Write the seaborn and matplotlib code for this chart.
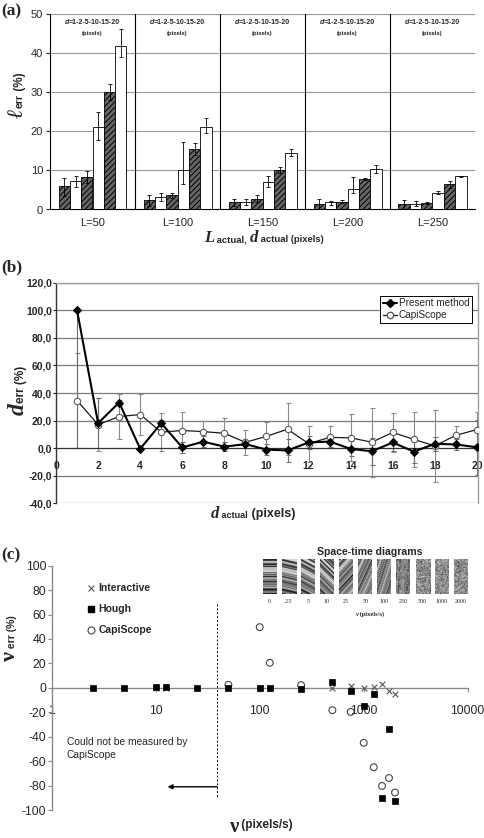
import numpy as np
import pandas as pd
import matplotlib
matplotlib.use("Agg")
import matplotlib.pyplot as plt
from matplotlib.lines import Line2D
import seaborn as sns

# ---------------- data: panel (a) ----------------
a_groups = ["L=50", "L=100", "L=150", "L=200", "L=250"]
a_d_levels = ["1", "2", "5", "10", "15", "20"]
lerr_L50 = [6.0, 7.2, 8.3, 21.2, 30.0, 41.8]
lerr_L100 = [2.4, 3.3, 3.7, 10.0, 15.4, 21.2]
lerr_L150 = [1.8, 2.0, 2.7, 7.0, 10.0, 14.6]
lerr_L200 = [1.4, 1.8, 2.0, 5.2, 7.8, 10.3]
lerr_L250 = [1.3, 1.5, 1.6, 4.3, 6.5, 8.5]
lo_L50 = [2.5, 1.4, 1.5, 3.4, 2.0, 2.8]
up_L50 = [2.0, 1.4, 1.5, 3.8, 2.2, 4.4]
lo_L100 = [1.4, 1.0, 0.7, 3.5, 1.4, 1.7]
up_L100 = [1.4, 1.0, 0.6, 7.2, 1.6, 2.3]
lo_L150 = [1.0, 0.8, 0.9, 1.2, 0.7, 1.0]
up_L150 = [1.0, 0.8, 0.9, 1.6, 0.8, 0.9]
lo_L200 = [1.4, 0.6, 0.4, 1.0, 0.2, 1.0]
up_L200 = [1.3, 0.5, 0.4, 3.1, 0.3, 1.2]
lo_L250 = [1.3, 0.7, 0.3, 0.3, 1.0, 0.3]
up_L250 = [1.2, 0.7, 0.3, 0.4, 0.8, 0.2]
a_yticks = [0, 10, 20, 30, 40, 50]
a_header = "=1-2-5-10-15-20"

# ---------------- data: panel (b) ----------------
b_d = list(range(1, 21))
b_present = [100.0, 18.1, 33.1, -0.5, 18.1, 0.5, 4.7, 1.1, 2.9, -1.0, -1.7, 4.1, 4.8, -0.5,
             -2.3, 4.1, -2.5, 3.1, 2.7, 0.6]
b_present_lo = [100, 18, 2, 1, 2, 4, 4, 3, 3, 4, 8, 5, 4, 5.5, 10, 6, 8, 5, 4, 20]
b_present_up = [0, 18, 2, 1, 2, 4, 4, 3, 3, 4, 8, 5, 4, 5.5, 10, 6, 8, 5, 4, 20]
b_capi = [34.5, 17.1, 22.9, 24.4, 11.6, 12.8, 12.0, 10.8, 4.2, 8.6, 13.7, 3.3, 7.8, 7.5,
          4.3, 11.4, 6.3, 1.7, 9.3, 13.5]
b_capi_err = [34.5, 19, 16.4, 15, 14, 13.5, 7.5, 11, 9, 10.5, 19, 13, 8, 17, 25, 14, 20,
              26, 6.5, 13]
b_yticks = [-40, -20, 0, 20, 40, 60, 80, 100, 120]
b_yticklabels = ["-40,0", "-20,0", "0,0", "20,0", "40,0", "60,0", "80,0", "100,0", "120,0"]
b_xticks = list(range(0, 21, 2))

# ---------------- data: panel (c) ----------------
v_interactive = [10, 12.5, 100, 125, 500, 750, 1000, 1250, 1500, 1750, 2000]
err_interactive = [0, 0, 0, 0, -0.5, 1.4, 0, 1.0, 2.8, -2.7, -5.2]
v_hough = [2.5, 5, 10, 12.5, 25, 50, 100, 125, 250, 500, 750, 1000, 1250, 1500, 1750, 2000]
err_hough = [0, 0, 1, 0.5, 0, 0, 0, 0, -1.3, 4.4, -2.7, -15, -5.4, -90, -34, -92.9]
v_capi = [50, 100, 125, 250, 500, 750, 1000, 1250, 1500, 1750, 2000]
err_capi = [2.5, 49.7, 20.5, 2.2, -18.3, -19.7, -45, -65, -80.3, -73.8, -85.7]
c_yticks = [-100, -80, -60, -40, -20, 0, 20, 40, 60, 80, 100]
c_xticks = [1, 10, 100, 1000, 10000]
c_limit_v = 39
c_arrow_end_v = 13
tile_speeds = ["0", "2.5", "5", "10", "25", "50", "100", "250", "500", "1000", "2000"]

# ---------------- style ----------------
sns.set_style("white")
plt.rcParams["font.family"] = ["Liberation Sans", "DejaVu Sans"]
plt.rcParams["hatch.linewidth"] = 0.7
SERIF = ["Liberation Serif", "DejaVu Serif"]
SANS = ["Liberation Sans", "DejaVu Sans"]

W, H = 484, 838
fig = plt.figure(figsize=(W / 100, H / 100), dpi=100)


def rect(l, t, r, b):
    return [l / W, 1 - b / H, (r - l) / W, (b - t) / H]


def run(pieces, x, y, align="left", vertical=False):
    rend = fig.canvas.get_renderer()
    items = []
    for p in pieces:
        s, kw = p[0], p[1]
        off = p[2] if len(p) > 2 else 0
        t = fig.text(0, 0, s, ha="left", va="baseline", rotation=90 if vertical else 0,
                     rotation_mode="anchor", **kw)
        bb = t.get_window_extent(rend)
        items.append((t, bb.height if vertical else bb.width, off))
    total = sum(w for _, w, _ in items)
    if vertical:
        pos = y + total / 2 if align == "center" else y
        for t, w, off in items:
            t.set_position(((x + off) / W, 1 - pos / H))
            pos -= w
    else:
        pos = x - total / 2 if align == "center" else x
        for t, w, off in items:
            t.set_position((pos / W, 1 - (y + off) / H))
            pos += w


# =============== panel (a) ===============
ax_a = fig.add_axes(rect(50, 14.3, 475, 209.5))
rows = []
for g, vals, lo, up in zip(a_groups,
                           [lerr_L50, lerr_L100, lerr_L150, lerr_L200, lerr_L250],
                           [lo_L50, lo_L100, lo_L150, lo_L200, lo_L250],
                           [up_L50, up_L100, up_L150, up_L200, up_L250]):
    for d, v, l, u in zip(a_d_levels, vals, lo, up):
        rows.append(dict(L=g, d=d, lerr=v, lo=l, up=u))
df_a = pd.DataFrame(rows)
dark = "#666666"
a_palette = {d: (dark if i % 2 == 0 else "white") for i, d in enumerate(a_d_levels)}
sns.barplot(data=df_a, x="L", y="lerr", hue="d", order=a_groups, hue_order=a_d_levels,
            palette=a_palette, errorbar=None, edgecolor="black", linewidth=0.6,
            width=0.8, legend=False, ax=ax_a, zorder=3)
bar_conts = list(ax_a.containers)
for i, cont in enumerate(bar_conts):
    sub = df_a[df_a.d == a_d_levels[i]].set_index("L").loc[a_groups]
    xs = []
    for p in cont:
        if i % 2 == 0:
            p.set_hatch("//////")
        xs.append(p.get_x() + p.get_width() / 2)
    ax_a.errorbar(xs, sub.lerr.values, yerr=[sub.lo.values, sub.up.values], fmt="none",
                  ecolor="black", elinewidth=0.6, capsize=1.6, capthick=0.6, zorder=4)
ax_a.set_xlim(-0.5, len(a_groups) - 0.5)
ax_a.set_ylim(0, 50)
ax_a.set_yticks(a_yticks)
ax_a.set_yticklabels([str(t) for t in a_yticks])
for yv in a_yticks[1:]:
    ax_a.axhline(yv, color="#9a9a9a", lw=0.8, zorder=1)
for k in range(1, len(a_groups)):
    ax_a.axvline(k - 0.5, color="black", lw=0.8, zorder=2)
ax_a.set_xticks(range(len(a_groups)))
ax_a.set_xticklabels(a_groups)
ax_a.set_xticks([k - 0.5 for k in range(len(a_groups) + 1)], minor=True)
ax_a.tick_params(axis="x", which="major", length=0, labelsize=8, pad=6)
ax_a.tick_params(axis="x", which="minor", length=4, width=0.8, direction="out", color="black")
ax_a.tick_params(axis="y", length=3, width=0.8, direction="out", labelsize=8, pad=2, left=True)
for s in ["top", "right"]:
    ax_a.spines[s].set_visible(False)
for s in ["left", "bottom"]:
    ax_a.spines[s].set_color("black")
    ax_a.spines[s].set_linewidth(0.8)
ax_a.set_xlabel("")
ax_a.set_ylabel("")
for k in range(len(a_groups)):
    cx = 50 + 85 * (k + 0.5)
    run([("d", dict(family=SANS, fontsize=5, fontweight="bold", style="italic")),
         (a_header, dict(family=SANS, fontsize=5, fontweight="bold"))], cx, 24.5, align="center")
    fig.text(cx / W, 1 - 35 / H, "(pixels)", ha="center", va="baseline", fontsize=4.2,
             fontweight="bold")

# =============== panel (b) ===============
ax_b = fig.add_axes(rect(56, 282.7, 478, 503.3))
ax_b.errorbar(b_d, b_capi, yerr=b_capi_err, fmt="none", ecolor="#8a8a8a", elinewidth=0.8,
              capsize=1.8, capthick=0.8, zorder=2)
ax_b.errorbar(b_d, b_present, yerr=[b_present_lo, b_present_up], fmt="none", ecolor="#6e6e6e",
              elinewidth=0.8, capsize=1.8, capthick=0.8, zorder=2)
sns.lineplot(x=b_d, y=b_capi, color="#1a1a1a", lw=0.9, marker="o", markersize=4.6,
             markeredgecolor="#5a5a5a", markerfacecolor="white", markeredgewidth=0.8,
             ax=ax_b, zorder=3)
sns.lineplot(x=b_d, y=b_present, color="black", lw=1.5, marker="D", markersize=3.8,
             markeredgecolor="black", markerfacecolor="black", ax=ax_b, zorder=4)
ax_b.lines[-2].set_markerfacecolor("white")
ax_b.set_xlim(0, 20.05)
ax_b.set_ylim(-40, 120)
ax_b.set_yticks(b_yticks)
ax_b.set_yticklabels(b_yticklabels)
ax_b.set_xticks(b_xticks)
ax_b.set_xticklabels([str(t) for t in b_xticks])
ax_b.yaxis.grid(True, color="#7a7a7a", lw=0.9)
ax_b.set_axisbelow(True)
ax_b.spines["bottom"].set_position(("data", 0))
ax_b.spines["bottom"].set_color("#333333")
ax_b.spines["left"].set_color("#333333")
ax_b.spines["left"].set_linewidth(1.0)
for s in ["top", "right"]:
    ax_b.spines[s].set_color("#a0a0a0")
    ax_b.spines[s].set_linewidth(1.0)
ax_b.tick_params(axis="y", length=2, width=0.8, direction="out", left=True, labelsize=7.5, pad=1)
ax_b.tick_params(axis="x", length=0, labelsize=7.5, pad=9)
for lab in ax_b.get_xticklabels() + ax_b.get_yticklabels():
    lab.set_fontweight("bold")
ax_b.set_xlabel("")
ax_b.set_ylabel("")
hb = [Line2D([], [], color="black", lw=1.5, marker="D", markersize=3.8),
      Line2D([], [], color="#1a1a1a", lw=0.9, marker="o", markersize=4.6,
             markerfacecolor="white", markeredgecolor="#5a5a5a")]
leg = ax_b.legend(hb, ["Present method", "CapiScope"], loc="upper right",
                  bbox_to_anchor=(0.985, 0.94), borderaxespad=0, fontsize=7.2,
                  handlelength=1.4, handletextpad=0.2, labelspacing=0.2, borderpad=0.25,
                  fancybox=False, framealpha=1, edgecolor="black")
leg.get_frame().set_linewidth(0.7)

# =============== panel (c) ===============
ax_c = fig.add_axes(rect(51.7, 565.7, 467.7, 810))
sns.scatterplot(x=v_capi, y=err_capi, marker="o", s=24, color="white", edgecolor="#444444",
                linewidth=0.8, ax=ax_c, zorder=3)
sns.scatterplot(x=v_interactive, y=err_interactive, marker="x", s=17, color="#555555",
                linewidth=0.8, ax=ax_c, zorder=3)
sns.scatterplot(x=v_hough, y=err_hough, marker="s", s=20, color="black", edgecolor="black",
                linewidth=0.5, ax=ax_c, zorder=4)
ax_c.collections[0].set_facecolor("none")
ax_c.collections[0].set_edgecolor("#444444")
ax_c.set_xscale("log")
ax_c.set_xlim(1, 10000)
ax_c.set_ylim(-100, 100)
ax_c.set_xticks(c_xticks)
ax_c.set_xticklabels([str(t) for t in c_xticks])
ax_c.xaxis.set_minor_locator(matplotlib.ticker.NullLocator())
ax_c.set_yticks(c_yticks)
ax_c.set_yticklabels([str(t) for t in c_yticks])
ax_c.spines["bottom"].set_position(("data", 0))
for s in ["bottom", "left"]:
    ax_c.spines[s].set_color("#8a8a8a")
    ax_c.spines[s].set_linewidth(1.0)
for s in ["top", "right"]:
    ax_c.spines[s].set_visible(False)
ax_c.tick_params(axis="y", length=3, width=0.8, color="#8a8a8a", direction="out", left=True,
                 labelsize=8.8, pad=1)
ax_c.tick_params(axis="x", length=3, width=0.8, color="#8a8a8a", direction="out", bottom=True,
                 labelsize=8.8, pad=9)
ax_c.set_xlabel("")
ax_c.set_ylabel("")
ax_c.plot([c_limit_v, c_limit_v], [68.6, -90.5], color="black", lw=0.7, ls=(0, (2, 2)))
ax_c.annotate("", xy=(c_arrow_end_v, -81), xytext=(c_limit_v, -81),
              arrowprops=dict(arrowstyle="-|>", lw=1.0, color="black", mutation_scale=7,
                              shrinkA=0, shrinkB=0))
ax_c.text(1.39, -57.6, "Could not be measured by\nCapiScope", fontsize=7.4, va="baseline",
          ha="left", linespacing=1.45)
hc = [Line2D([], [], ls="none", marker="x", color="#555555", markersize=4.2, mew=0.8),
      Line2D([], [], ls="none", marker="s", color="black", markersize=4.5),
      Line2D([], [], ls="none", marker="o", markerfacecolor="none", markeredgecolor="#444444",
             markersize=5, mew=0.8)]
legc = ax_c.legend(hc, ["Interactive", "Hough", "CapiScope"], loc="upper left",
                   bbox_to_anchor=(0.075, 0.945), frameon=False, handlelength=0.8,
                   handletextpad=0.3, labelspacing=1.05, borderaxespad=0,
                   prop=dict(size=7.5, weight="bold"))

# inset: space-time diagram tiles
def hnoise(a, b):
    return np.mod(np.sin(a * 12.9898 + b * 78.233) * 43758.5453, 1.0)


idx = np.arange(400)
prof = 0.15 + 0.75 * (hnoise(idx, 0.37) > 0.45) * (0.6 + 0.4 * hnoise(idx, 1.7))
slopes = {"0": 0.0, "2.5": -0.25, "5": -0.55, "10": -1.0, "25": 1.1, "50": 2.2, "100": 3.2}
rr, cc = np.mgrid[0:56, 0:22]
for i, sp in enumerate(tile_speeds):
    if sp in slopes:
        u = np.mod(rr * 1.0 + slopes[sp] * cc + 60, 400)
        img = np.interp(u, idx, prof)
    elif sp == "250":
        img = 0.55 * np.interp(np.mod(cc * 2.3 + rr * 0.15, 400), idx, prof) + 0.45 * hnoise(rr, cc)
    else:
        img = 0.2 + 0.7 * hnoise(rr * 1.3 + i, cc * 0.7 + i)
    x0 = 262.7 + i * 19.1
    axt = fig.add_axes(rect(x0, 559.3, x0 + 14, 594.3))
    axt.imshow(img, cmap="gray", vmin=0, vmax=1, aspect="auto", interpolation="bilinear")
    axt.set_axis_off()
    fig.text((x0 + 7) / W, 1 - 603 / H, sp, ha="center", va="baseline", family=SERIF,
             fontsize=4.3)
fig.text(370 / W, 1 - 555 / H, "Space-time diagrams", ha="center", va="baseline",
         fontsize=7.6, fontweight="bold")
run([("v", dict(family=SERIF, fontsize=4.8, fontweight="bold", style="italic")),
     (" (pixels/s)", dict(family=SERIF, fontsize=4.6, fontweight="bold"))], 370, 616,
    align="center")

# =============== axis labels / panel labels ===============
BIG = dict(family=SERIF, fontweight="bold", style="italic")
run([("L", dict(BIG, fontsize=12)), (" actual, ", dict(family=SANS, fontsize=6.8, fontweight="bold")),
     ("d", dict(BIG, fontsize=12)), (" actual (pixels)", dict(family=SANS, fontsize=6.8, fontweight="bold"))],
    204, 242)
run([("d", dict(BIG, fontsize=12)), (" actual", dict(family=SANS, fontsize=6.5, fontweight="bold")),
     (" (pixels)", dict(family=SANS, fontsize=9, fontweight="bold"), -1)], 211, 518)
run([("ν", dict(family=SERIF, fontsize=15, fontweight="bold")),
     (" (pixels/s)", dict(family=SANS, fontsize=8.5, fontweight="bold"), -4)], 229, 832)

run([("ℓ", dict(family=SERIF, fontsize=16, style="italic", fontweight="bold")),
     ("err", dict(family=SANS, fontsize=7.5, fontweight="bold")),
     (" (%)", dict(family=SANS, fontsize=8.5, fontweight="bold"))], 23, 118, vertical=True)
run([("d", dict(BIG, fontsize=17)),
     ("err (%)", dict(family=SANS, fontsize=8.5, fontweight="bold"))], 24, 415, vertical=True)
run([("ν", dict(family=SERIF, fontsize=16, fontweight="bold")),
     (" err (%)", dict(family=SANS, fontsize=7.5, fontweight="bold"))], 15, 661, vertical=True)

for lab, yy in [("(a)", 15), ("(b)", 271), ("(c)", 559)]:
    fig.text(1 / W, 1 - yy / H, lab, ha="left", va="baseline", family=SERIF, fontsize=12.5,
             fontweight="bold")

fig.savefig("out.png", dpi=100)
